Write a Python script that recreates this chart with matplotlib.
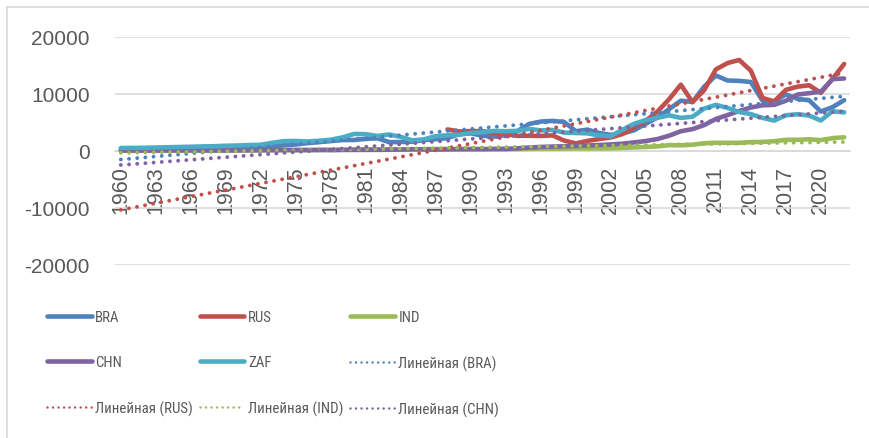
import numpy as np
import matplotlib
matplotlib.use("Agg")
import matplotlib.pyplot as plt
from matplotlib.lines import Line2D
from matplotlib import font_manager

years = list(range(1960, 2023))

BRA = [211, 205, 262, 297, 256, 258, 314, 340, 362, 393, 445, 504, 586, 786, 1003, 1147,
       1383, 1557, 1743, 1919, 1931, 2126, 2228, 1557, 1578, 1636, 1927, 2060, 2257, 2983,
       3100, 2676, 2527, 2791, 3500, 4749, 5167, 5282, 5087, 3478, 3750, 3157, 2829, 3071,
       3637, 4790, 5886, 7348, 8831, 8598, 11286, 13246, 12370, 12300, 12113, 8814, 8710,
       9928, 9151, 8897, 6923, 7696, 8918]

RUS = [None] * 28 + [3780, 3430, 3490, 3490, 3100, 2930, 2660, 2670, 2640, 2740, 1830,
                     1330, 1772, 2100, 2377, 2975, 4102, 5323, 6920, 9101, 11635, 8563,
                     10675, 14311, 15421, 15975, 14096, 9313, 8705, 10720, 11287, 11536,
                     10194, 12647, 15271]

IND = [82, 85, 89, 101, 116, 119, 90, 96, 99, 107, 112, 118, 122, 143, 163, 158, 161, 186,
       205, 224, 267, 271, 275, 292, 277, 296, 310, 340, 354, 346, 368, 303, 317, 301, 346,
       374, 400, 415, 413, 441, 443, 452, 471, 546, 627, 714, 806, 1028, 999, 1102, 1358,
       1450, 1434, 1438, 1560, 1590, 1714, 1958, 1974, 2050, 1913, 2250, 2411]

CHN = [90, 76, 70, 74, 85, 98, 104, 97, 91, 100, 113, 119, 132, 157, 160, 178, 165, 185,
       156, 184, 195, 197, 203, 225, 250, 294, 281, 252, 284, 311, 318, 333, 366, 377, 473,
       610, 709, 782, 829, 873, 959, 1053, 1149, 1289, 1509, 1753, 2099, 2694, 3468, 3832,
       4550, 5614, 6301, 7020, 7636, 8016, 8094, 8817, 9905, 10144, 10409, 12618, 12720]

ZAF = [529, 543, 563, 610, 657, 702, 745, 804, 840, 921, 967, 1043, 1092, 1449, 1737, 1755,
       1677, 1801, 1984, 2384, 2994, 2948, 2641, 2893, 2474, 1864, 2051, 2618, 2752, 2850,
       3141, 3306, 3519, 3473, 3533, 3875, 3612, 3689, 3235, 3154, 3100, 2723, 2598, 3738,
       4781, 5434, 5820, 6258, 5808, 6013, 7442, 8102, 7563, 6832, 6479, 5809, 5332, 6264,
       6459, 6217, 5353, 6980, 6776]

series_names = ["BRA", "RUS", "IND", "CHN", "ZAF"]
series_vals = [BRA, RUS, IND, CHN, ZAF]
colors = ["#4F81BD", "#C0504D", "#9BBB59", "#8064A2", "#4BACC6"]
trend_names = ["BRA", "RUS", "IND", "CHN"]
yticks = [-20000, -10000, 0, 10000, 20000]

available = {f.name for f in font_manager.fontManager.ttflist}
narrow = None
for cand in ["Liberation Sans Narrow", "Roboto Condensed", "Open Sans Condensed",
             "Noto Sans Condensed", "Roboto"]:
    if cand in available:
        narrow = cand
        break
if narrow is None:
    narrow = "Liberation Sans"

fig = plt.figure(figsize=(8.7, 4.39), dpi=100)
ax = fig.add_axes([115 / 870, 1 - 266 / 439, 735 / 870, 228 / 439])

x = np.arange(len(years))
for name, vals, c in zip(series_names, series_vals, colors):
    v = np.array([np.nan if a is None else a for a in vals], dtype=float)
    ax.plot(x, v, color=c, lw=3.3, solid_capstyle="round", solid_joinstyle="round", zorder=3)

dot_style = (0, (0.01, 2.1))
for name in trend_names:
    i = series_names.index(name)
    v = np.array([np.nan if a is None else a for a in series_vals[i]], dtype=float)
    m = ~np.isnan(v)
    k, b = np.polyfit(x[m] + 1, v[m], 1)
    ax.plot(x, k * (x + 1) + b, color=colors[i], lw=2.8, linestyle=dot_style,
            dash_capstyle="round", zorder=4)

ax.set_xlim(-0.5, len(years) - 0.5)
ax.set_ylim(-20000, 20000)
ax.set_yticks(yticks)
ax.set_yticklabels([str(t) for t in yticks])
ax.grid(axis="y", color="#D9D9D9", lw=1.2)
ax.set_axisbelow(True)
for s in ["top", "right", "left"]:
    ax.spines[s].set_visible(False)
ax.spines["bottom"].set_position(("data", 0))
ax.spines["bottom"].set_color("#D9D9D9")
ax.spines["bottom"].set_linewidth(1.2)
ax.spines["bottom"].set_zorder(1)

tick_idx = list(range(0, len(years), 3))
ax.set_xticks(tick_idx)
ax.set_xticklabels([str(years[i]) for i in tick_idx], rotation=90, va="top", ha="center")
ax.tick_params(axis="x", length=0, pad=10, labelsize=15.5, labelcolor="#595959")
ax.tick_params(axis="y", length=0, pad=18, labelsize=15, labelcolor="#595959")
for lab in ax.get_xticklabels() + ax.get_yticklabels():
    lab.set_fontfamily("Liberation Sans")

handles = []
labels = []
for name, c in zip(series_names, colors):
    handles.append(Line2D([], [], color=c, lw=3.3, solid_capstyle="round"))
    labels.append(name)
for name in trend_names:
    i = series_names.index(name)
    handles.append(Line2D([], [], color=colors[i], lw=1.8, linestyle=(0, (0.01, 2.2)),
                          dash_capstyle="round"))
    labels.append("Линейная (" + name + ")")

# reorder for row-major filling with ncol=3 (matplotlib fills column-major)
order = []
nrow = 3
ncol = 3
for c in range(ncol):
    for r in range(nrow):
        order.append(r * ncol + c)
h2 = [handles[i] for i in order]
l2 = [labels[i] for i in order]

leg = fig.legend(h2, l2, loc="upper left", bbox_to_anchor=(47 / 870, 1 - 311 / 439),
                 ncol=3, frameon=False, borderpad=0, borderaxespad=0,
                 handlelength=3.0, handletextpad=0.25, columnspacing=0.45,
                 labelspacing=2.1,
                 prop={"family": [narrow, "DejaVu Sans"], "size": 10.7})
for t in leg.get_texts():
    t.set_color("#595959")

# chart border (left and top visible in crop)
fig.add_artist(Line2D([7 / 870, 7 / 870], [0, 1 - 8 / 439], transform=fig.transFigure,
                      color="#D9D9D9", lw=1.2))
fig.add_artist(Line2D([7 / 870, 1], [1 - 8 / 439, 1 - 8 / 439], transform=fig.transFigure,
                      color="#D9D9D9", lw=1.2))

fig.savefig("out.png", dpi=100)
